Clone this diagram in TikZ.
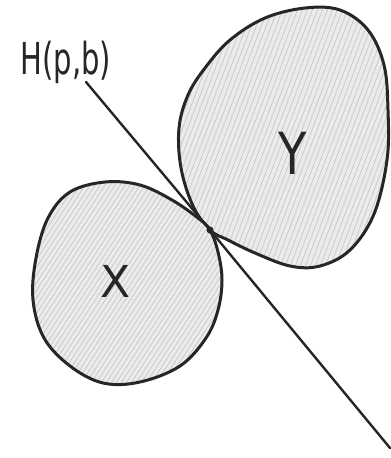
\documentclass[tikz,border=0pt]{standalone}
\usepackage{fontspec}
\setmainfont{DejaVu Sans}
\tikzset{
  blob/.style={draw=black!85, line width=3pt, line join=round},
  blobfill/.style={fill=gray!16},
  hatch/.style={draw=gray!45, line width=0.7pt},
  hline/.style={draw=black!85, line width=2.4pt, line cap=round},
  lbl/.style={inner sep=0pt, text=black!85},
}
\newcommand{\yblobpath}{plot[smooth cycle, tension=0.6] coordinates {
 (210,230) (193,206) (181,168) (179,128) (188,95) (205,68) (230,40) (265,18)
 (305,8) (340,10) (368,30) (384,65) (388,110) (387,160) (374,214) (350,250)
 (320,266) (290,266) (255,253) (228,240)}}
\newcommand{\xblobpath}{plot[smooth cycle, tension=0.6] coordinates {
 (210,230) (218,252) (222,280) (218,310) (206,338) (180,366) (140,382)
 (103,383) (70,366) (44,338) (33,300) (36,258) (48,218) (70,192) (105,182)
 (140,185) (172,200) (198,218)}}
\begin{document}
\begin{tikzpicture}[x=1pt,y=-1pt]
\useasboundingbox (0,0) rectangle (391,458);
\fill[white] (0,0) rectangle (391,458);
\coordinate (t) at (210,230);
% Y blob
\fill[blobfill] \yblobpath;
\begin{scope}
  \clip \yblobpath;
  \foreach \k in {-40,-35,...,480} {
    \draw[hatch] (\k,280) -- ++(110,-290);
  }
\end{scope}
\draw[blob] \yblobpath;
% X blob
\fill[blobfill] \xblobpath;
\begin{scope}
  \clip \xblobpath;
  \foreach \k in {-160,-155,...,260} {
    \draw[hatch] (\k,400) -- ++(150,-230);
  }
\end{scope}
\draw[blob] \xblobpath;
% line H(p,b)
\coordinate (h1) at (86,82);
\coordinate (h2) at (390,448);
\draw[hline] (h1) -- (t) -- (h2);
\fill[black!85] (t) circle (3.5pt);
% labels
\node[lbl, font=\fontsize{44}{44}\selectfont, xscale=0.66] (hlabel) at (66,62) {H(p,b)};
\node[lbl, font=\fontsize{58}{58}\selectfont, xscale=0.8] (ylabel) at (293,153) {Y};
\node[lbl, font=\fontsize{44}{44}\selectfont] (xlabel) at (116,281) {X};
\end{tikzpicture}
\end{document}
